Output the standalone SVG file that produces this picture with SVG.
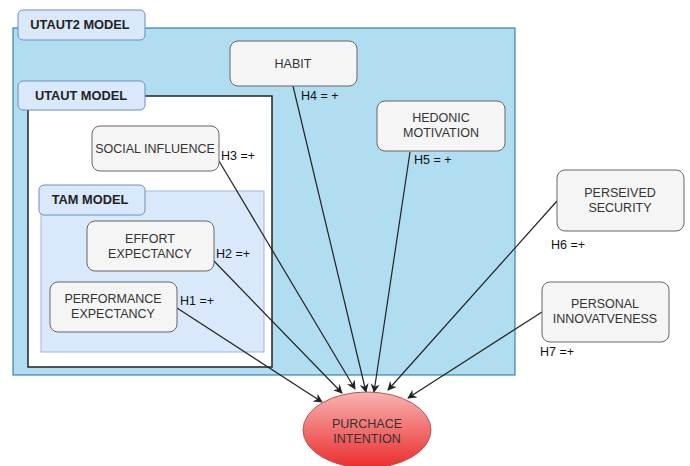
<svg xmlns="http://www.w3.org/2000/svg" width="690" height="466" viewBox="0 0 690 466">
<defs>
<marker id="arr" viewBox="0 0 10 10" refX="9" refY="5" markerWidth="9" markerHeight="9" orient="auto" markerUnits="userSpaceOnUse">
<path d="M0,0 L10,5 L0,10 L3,5 Z" fill="#222"/>
</marker>
<linearGradient id="red" x1="0" y1="0" x2="0" y2="1">
<stop offset="0" stop-color="#f8b4b2"/>
<stop offset="1" stop-color="#ea2c2c"/>
</linearGradient>
<style>
text{font-family:"Liberation Sans",Arial,sans-serif;}
.node{fill:#f5f5f5;stroke:#666;stroke-width:1}
.nt{font-size:12.5px;fill:#333;text-anchor:middle}
.hdr{fill:#dae8fc;stroke:#6c8ebf;stroke-width:1}
.ht{font-size:12.8px;font-weight:bold;fill:#222;text-anchor:middle}
.lbl{font-size:12.5px;fill:#111}
.edge{stroke:#222;stroke-width:1.2;fill:none;marker-end:url(#arr)}
</style>
</defs>
<rect width="690" height="466" fill="#fff"/>
<g id="utaut2">
<rect x="13" y="28" width="502" height="347" fill="#b1ddf0" stroke="#10739e" stroke-width="1"/>
</g>
<g id="utaut">
<rect x="28" y="96" width="244" height="271" fill="#fff" stroke="#222" stroke-width="1.5"/>
</g>
<g id="tam">
<rect x="41" y="191" width="223" height="161" fill="#dae8fc" stroke="#9eb6dd" stroke-width="1"/>
</g>
<g id="utaut2-label">
<rect class="hdr" x="18" y="10" width="127" height="30" rx="5"/>
<text class="ht" x="80" y="29">UTAUT2 MODEL</text>
</g>
<g id="utaut-label">
<rect class="hdr" x="18" y="81" width="127" height="29" rx="5"/>
<text class="ht" x="81" y="100">UTAUT MODEL</text>
</g>
<g id="tam-label">
<rect class="hdr" x="39" y="185" width="106" height="30" rx="5"/>
<text class="ht" x="90" y="204">TAM MODEL</text>
</g>
<g id="edges">
<line class="edge" x1="177" y1="308" x2="322" y2="402"/>
<line class="edge" x1="213" y1="260" x2="342" y2="393"/>
<line class="edge" x1="219" y1="161" x2="355" y2="389"/>
<line class="edge" x1="293" y1="86" x2="366" y2="392"/>
<line class="edge" x1="410" y1="152" x2="374" y2="392"/>
<line class="edge" x1="557" y1="201" x2="388" y2="390"/>
<line class="edge" x1="542" y1="312" x2="408" y2="398"/>
</g>
<g id="habit">
<rect class="node" x="230" y="41" width="127" height="45" rx="8"/>
<text class="nt" x="293" y="68">HABIT</text>
</g>
<g id="social">
<rect class="node" x="92" y="126" width="127" height="45" rx="8"/>
<text class="nt" x="155" y="153">SOCIAL INFLUENCE</text>
</g>
<g id="hedonic">
<rect class="node" x="377" y="101" width="128" height="50" rx="8"/>
<text class="nt" x="441" y="122">HEDONIC</text>
<text class="nt" x="441" y="137">MOTIVATION</text>
</g>
<g id="effort">
<rect class="node" x="87" y="221" width="127" height="50" rx="8"/>
<text class="nt" x="150" y="243">EFFORT</text>
<text class="nt" x="150" y="258">EXPECTANCY</text>
</g>
<g id="performance">
<rect class="node" x="50" y="282" width="127" height="50" rx="8"/>
<text class="nt" x="113" y="303">PERFORMANCE</text>
<text class="nt" x="113" y="318">EXPECTANCY</text>
</g>
<g id="security">
<rect class="node" x="557" y="170" width="127" height="61" rx="8"/>
<text class="nt" x="620" y="197">PERSEIVED</text>
<text class="nt" x="620" y="212">SECURITY</text>
</g>
<g id="innov">
<rect class="node" x="542" y="282" width="127" height="60" rx="8"/>
<text class="nt" x="605" y="308">PERSONAL</text>
<text class="nt" x="605" y="323">INNOVATVENESS</text>
</g>
<g id="purchase">
<ellipse cx="367" cy="430" rx="64" ry="38" fill="url(#red)" stroke="#b85450" stroke-width="1"/>
<text class="nt" x="367" y="428">PURCHACE</text>
<text class="nt" x="367" y="443">INTENTION</text>
</g>
<g id="labels">
<text class="lbl" x="221" y="160">H3 =+</text>
<text class="lbl" x="301" y="100">H4 = +</text>
<text class="lbl" x="414" y="164">H5 = +</text>
<text class="lbl" x="216" y="258">H2 =+</text>
<text class="lbl" x="180" y="305">H1 =+</text>
<text class="lbl" x="551" y="249">H6 =+</text>
<text class="lbl" x="540" y="356">H7 =+</text>
</g>
</svg>
